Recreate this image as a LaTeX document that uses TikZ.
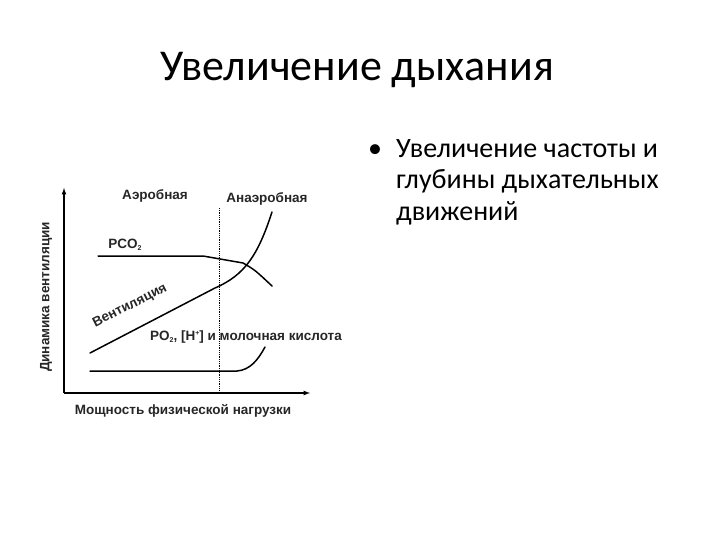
\documentclass[tikz,border=0pt]{standalone}
\usepackage{fontspec}
\setmainfont{Carlito}
\newfontfamily\gfont{Liberation Sans}
\newcommand{\lsub}[1]{\raisebox{-0.3ex}{\scriptsize #1}}
\newcommand{\lsup}[1]{\raisebox{0.7ex}{\scriptsize #1}}
\begin{document}
\begin{tikzpicture}[x=1pt,y=-1pt,
  curve/.style={line width=1.5pt,line cap=round},
  glab/.style={font=\gfont\fontsize{13.5}{15}\selectfont\bfseries,text=black!85,inner sep=0}]
\useasboundingbox (0,0) rectangle (720,540);
\node (title) at (357,70) {\fontsize{44}{48}\selectfont Увеличение дыхания};
\node[anchor=north west,align=left,inner sep=0] (bul) at (368,139)
 {\fontsize{28}{31.5}\selectfont •\hspace{14pt}\parbox[t]{310pt}{Увеличение частоты и\\ глубины дыхательных\\ движений}};
\coordinate (o) at (64,393);
\coordinate (ytop) at (64,188);
\coordinate (xend) at (310,393);
\draw[line width=1.2pt,-latex] (o) -- (ytop);
\draw[line width=1.2pt,-latex] (o) -- (xend);
\coordinate (d1) at (219,208);
\coordinate (d2) at (219,393);
\draw[densely dotted,line width=0.8pt] (d1) -- (d2);
\draw[curve] (98,256) -- (203,256) -- (243,263) .. controls (255,270) .. (272,286);
\draw[curve] (90,353) -- (215,288) .. controls (245,275) and (258,255) .. (272,212);
\draw[curve] (90,371) -- (237,371) .. controls (250,370) and (258,360) .. (265,347);
\node[glab] (aer) at (155,196) {Аэробная};
\node[glab] (anaer) at (267,199) {Анаэробная};
\node[glab] (pco) at (125,245) {PCO\lsub{2}};
\node[glab,rotate=27] (vent) at (130,306) {Вентиляция};
\node[glab] (po) at (246,337) {PO\lsub{2}, [H\lsup{+}] и молочная кислота};
\node[glab,rotate=90] (ylab) at (46,297) {Динамика вентиляции};
\node[glab] (xlab) at (183,411) {Мощность физической нагрузки};
\end{tikzpicture}
\end{document}
